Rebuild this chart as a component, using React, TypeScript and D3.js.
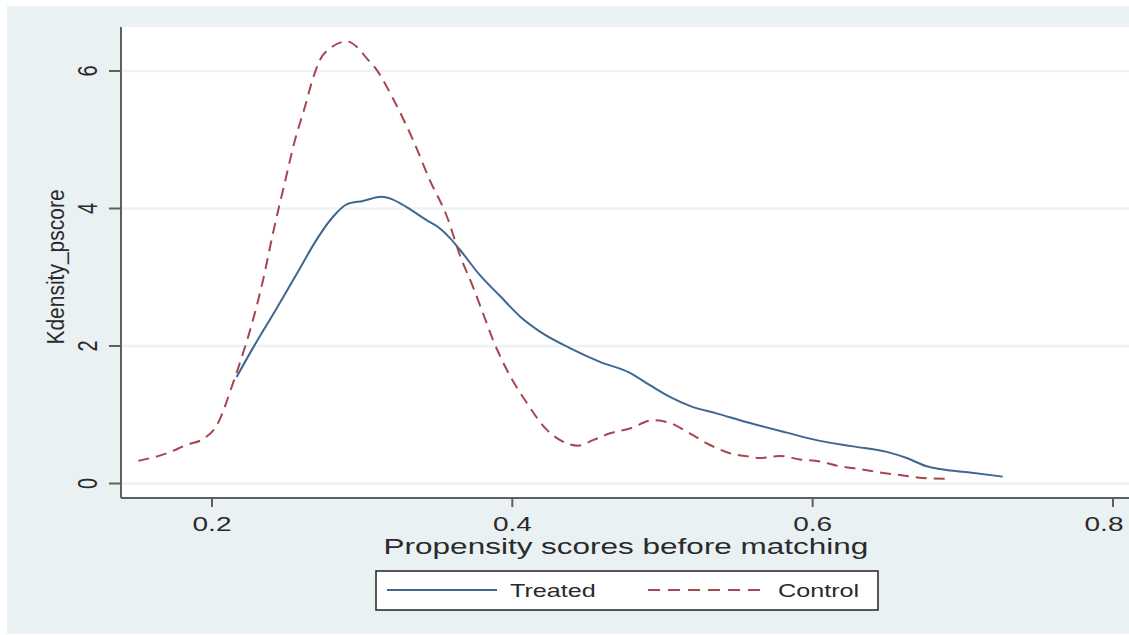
import React from "react";
import * as d3 from "d3";

const treatedX = [0.2164, 0.2275, 0.2431, 0.2586, 0.2672, 0.2806, 0.2897, 0.3005, 0.313, 0.3205, 0.3296, 0.3429, 0.3518, 0.3585, 0.3651, 0.3784, 0.3917, 0.4051, 0.4184, 0.4384, 0.4583, 0.4783, 0.4916, 0.5049, 0.5182, 0.536, 0.5582, 0.5828, 0.6048, 0.6268, 0.6494, 0.6627, 0.676, 0.6847, 0.7047, 0.7266];
const treatedY = [1.55, 1.98, 2.55, 3.13, 3.46, 3.88, 4.06, 4.11, 4.17, 4.13, 4.02, 3.83, 3.71, 3.57, 3.4, 3.03, 2.73, 2.43, 2.21, 1.97, 1.77, 1.61, 1.43, 1.26, 1.13, 1.02, 0.88, 0.74, 0.62, 0.54, 0.46, 0.37, 0.25, 0.21, 0.16, 0.1];

const controlX = [0.151, 0.17, 0.183, 0.195, 0.2033, 0.214, 0.2206, 0.2273, 0.234, 0.2406, 0.2486, 0.2553, 0.2619, 0.2672, 0.2719, 0.2786, 0.2899, 0.2965, 0.3032, 0.3099, 0.3205, 0.3338, 0.3451, 0.3565, 0.3651, 0.3738, 0.3804, 0.3871, 0.3964, 0.4097, 0.423, 0.4337, 0.4437, 0.4537, 0.465, 0.4783, 0.4936, 0.5049, 0.5182, 0.5316, 0.5449, 0.5582, 0.5648, 0.5781, 0.5915, 0.6048, 0.6181, 0.6314, 0.6448, 0.6627, 0.676, 0.688];
const controlY = [0.33, 0.44, 0.56, 0.66, 0.85, 1.46, 1.89, 2.38, 2.96, 3.64, 4.39, 5.0, 5.48, 5.89, 6.16, 6.33, 6.43, 6.35, 6.18, 6.01, 5.6, 5.0, 4.41, 3.88, 3.32, 2.86, 2.48, 2.09, 1.65, 1.17, 0.78, 0.61, 0.55, 0.63, 0.73, 0.8, 0.92, 0.88, 0.73, 0.56, 0.44, 0.39, 0.37, 0.4, 0.35, 0.32, 0.25, 0.21, 0.16, 0.11, 0.075, 0.07];

const xTicks = [0.2, 0.4, 0.6, 0.8];
const yTicks = [0, 2, 4, 6];
const xTitle = "Propensity scores before matching";
const yTitle = "Kdensity_pscore";
const seriesNames = ["Treated", "Control"];

const TREATED = "#3f6792";
const CONTROL = "#a4474e";
const BG = "#e9f1f3";
const FONT = "'Liberation Sans', Arial, sans-serif";
const TXT = "#2a2a2a";
const SX = 1.4;

export default function App() {
  const x = d3.scaleLinear().domain([0.2, 0.8]).range([212, 1113]);
  const y = d3.scaleLinear().domain([0, 6]).range([483.5, 71]);
  const line = d3
    .line<[number, number]>()
    .x((d) => x(d[0]))
    .y((d) => y(d[1]))
    .curve(d3.curveMonotoneX);
  const tData = treatedX.map((v, i) => [v, treatedY[i]] as [number, number]);
  const cData = controlX.map((v, i) => [v, controlY[i]] as [number, number]);

  const plotLeft = 121;
  const plotTop = 27;
  const plotBottom = 498;
  const plotRight = 1129;

  return (
    <svg
      width={1129}
      height={635}
      style={{ position: "absolute", left: 0, top: 0, background: "#fff" }}
    >
      <rect x={7} y={6} width={1122} height={628} fill={BG} />
      <rect x={plotLeft} y={plotTop} width={plotRight - plotLeft} height={plotBottom - plotTop} fill="#fff" />
      {yTicks.map((t) => (
        <line key={"g" + t} x1={plotLeft} x2={plotRight} y1={y(t)} y2={y(t)} stroke="#edf3f5" strokeWidth={2.5} />
      ))}
      <path d={line(tData) || ""} fill="none" stroke={TREATED} strokeWidth={2} />
      <path d={line(cData) || ""} fill="none" stroke={CONTROL} strokeWidth={2} strokeDasharray="11,7" />
      {/* axes */}
      <line x1={plotLeft} x2={plotLeft} y1={plotTop} y2={plotBottom} stroke="#5f5f5f" strokeWidth={2} />
      <line x1={plotLeft} x2={plotRight} y1={plotBottom} y2={plotBottom} stroke="#5f5f5f" strokeWidth={2} />
      {yTicks.map((t) => (
        <g key={"y" + t}>
          <line x1={109} x2={plotLeft} y1={y(t)} y2={y(t)} stroke="#5f5f5f" strokeWidth={2} />
          <text
            transform={`translate(97,${y(t)}) scale(${SX},1) rotate(-90)`}
            textAnchor="middle"
            fontFamily={FONT}
            fontSize={20}
            fill={TXT}
          >
            {d3.format("d")(t)}
          </text>
        </g>
      ))}
      {xTicks.map((t) => (
        <g key={"x" + t}>
          <line x1={x(t)} x2={x(t)} y1={plotBottom} y2={507} stroke="#5f5f5f" strokeWidth={2} />
          <text
            transform={`translate(${Math.min(x(t), 1104)},531) scale(${SX},1)`}
            textAnchor="middle"
            fontFamily={FONT}
            fontSize={20}
            fill={TXT}
          >
            {d3.format(".1f")(t)}
          </text>
        </g>
      ))}
      <text
        transform={`translate(626,554) scale(${SX},1)`}
        textAnchor="middle"
        fontFamily={FONT}
        fontSize={22.5}
        fill={TXT}
      >
        {xTitle}
      </text>
      <text
        transform={`translate(64,267) scale(1.1,1) rotate(-90)`}
        textAnchor="middle"
        fontFamily={FONT}
        fontSize={21}
        fill={TXT}
      >
        {yTitle}
      </text>
      {/* legend */}
      <rect x={376} y={571} width={502} height={39} fill="#fff" stroke="#222" strokeWidth={1.5} />
      <line x1={387} x2={497} y1={590} y2={590} stroke={TREATED} strokeWidth={2} />
      <text transform={`translate(510,597) scale(${SX},1)`} fontFamily={FONT} fontSize={18} fill={TXT}>
        {seriesNames[0]}
      </text>
      <line x1={648} x2={760} y1={590} y2={590} stroke={CONTROL} strokeWidth={2} strokeDasharray="12,8" />
      <text transform={`translate(778,597) scale(${SX},1)`} fontFamily={FONT} fontSize={18} fill={TXT}>
        {seriesNames[1]}
      </text>
    </svg>
  );
}
